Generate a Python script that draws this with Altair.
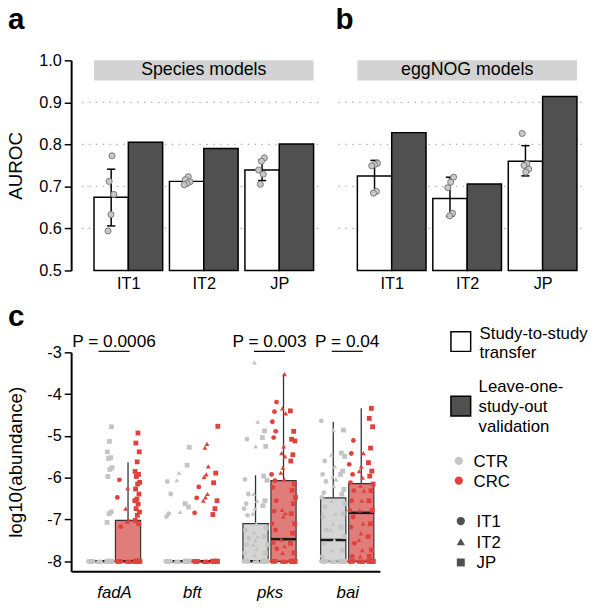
import json
import altair as alt
import pandas as pd

FONT = "Liberation Sans"

# ---------------- panels a / b : AUROC ----------------
cohorts = ["IT1", "IT2", "JP"]
model_types = ["transfer", "loso"]
panels = ["a", "b"]
panel_titles = ["Species models", "eggNOG models"]

species_transfer = [0.674, 0.712, 0.739]
species_loso = [0.805, 0.790, 0.801]
species_err_lo = [0.606, 0.707, 0.714]
species_err_hi = [0.741, 0.717, 0.763]
species_pts_IT1 = [0.773, 0.712, 0.681, 0.633, 0.594]
species_pts_IT2 = [0.723, 0.716, 0.711, 0.707, 0.704]
species_pts_JP = [0.768, 0.760, 0.739, 0.729, 0.705]

eggnog_transfer = [0.725, 0.671, 0.760]
eggnog_loso = [0.828, 0.706, 0.914]
eggnog_err_lo = [0.686, 0.629, 0.725]
eggnog_err_hi = [0.762, 0.722, 0.797]
eggnog_pts_IT1 = [0.755, 0.752, 0.749, 0.688, 0.684]
eggnog_pts_IT2 = [0.722, 0.710, 0.697, 0.636, 0.630]
eggnog_pts_JP = [0.826, 0.754, 0.750, 0.741, 0.734]

auroc_ticks = [0.5, 0.6, 0.7, 0.8, 0.9, 1.0]
auroc_grid = [0.6, 0.7, 0.8, 0.9]

# ---------------- panel c : log10(abundance) ----------------
genes = ["fadA", "bft", "pks", "bai"]
conditions = ["CTR", "CRC"]

fadA_CTR_IT1 = [-8, -8, -8, -8, -8, -8, -8, -8]
fadA_CTR_IT2 = [-8, -8, -8, -8, -8, -8, -8]
fadA_CTR_JP = [-4.78, -5.13, -5.38, -5.52, -5.54, -5.76, -5.80, -5.97, -6.82, -6.86, -7.07,
               -8, -8, -8, -8, -8, -8, -8, -8]
fadA_CRC_IT1 = [-6.05, -6.47, -7.17, -8, -8, -8, -8, -8, -8, -8, -8]
fadA_CRC_IT2 = [-6.25, -6.74, -7.02, -7.05, -8, -8, -8, -8, -8, -8]
fadA_CRC_JP = [-4.93, -5.17, -5.38, -5.62, -5.85, -5.92, -5.97, -6.11, -6.15, -6.27, -6.39,
               -6.51, -6.55, -6.63, -6.74, -6.82, -6.90, -7.02, -7.10,
               -8, -8, -8, -8, -8, -8, -8, -8]

bft_CTR_IT1 = [-6.09, -6.39, -6.86, -6.93, -8, -8, -8, -8, -8, -8, -8, -8]
bft_CTR_IT2 = [-5.88, -6.06, -6.82, -8, -8, -8, -8, -8, -8, -8]
bft_CTR_JP = [-5.27, -5.70, -6.62, -6.70, -8, -8, -8, -8, -8, -8, -8, -8, -8]
bft_CRC_IT1 = [-6.22, -6.48, -6.84, -8, -8, -8, -8, -8, -8, -8, -8]
bft_CRC_IT2 = [-5.19, -5.28, -5.73, -5.92, -5.98, -6.39, -6.47, -6.55, -8, -8, -8, -8, -8, -8, -8]
bft_CRC_JP = [-4.77, -5.89, -6.12, -6.55, -6.74, -6.88, -8, -8, -8, -8, -8, -8, -8, -8]

pks_CTR_IT1 = [-5.08, -6.04, -6.39, -6.62, -6.74, -6.90, -7.25, -7.45, -7.60, -7.80, -8, -8, -8, -8]
pks_CTR_IT2 = [-3.24, -4.66, -5.25, -6.39, -6.55, -6.74, -6.86, -7.10, -7.30, -7.40, -7.50, -7.60,
               -7.70, -7.85, -8, -8, -8, -8]
pks_CTR_JP = [-4.88, -5.04, -5.25, -5.96, -6.06, -6.55, -6.67, -7.20, -7.40, -7.60, -7.80,
              -8, -8, -8, -8, -8, -8]
pks_CRC_IT1 = [-4.19, -4.42, -4.66, -4.89, -5.04, -5.92, -6.07, -6.23, -6.55, -6.80, -7.10, -7.25,
               -7.55, -7.70, -8, -8, -8, -8, -8]
pks_CRC_IT2 = [-3.52, -4.34, -4.46, -5.25, -5.41, -5.49, -5.76, -5.88, -6.04, -6.77, -6.85, -6.93,
               -7.48, -7.64, -7.80, -8, -8, -8, -8, -8]
pks_CRC_JP = [-4.40, -4.89, -5.08, -5.12, -5.45, -5.60, -6.15, -6.30, -6.47, -6.62, -6.86, -7.10,
              -7.33, -7.57, -7.80, -8, -8, -8, -8, -8, -8]

bai_CTR_IT1 = [-4.64, -5.60, -5.92, -6.09, -6.36, -6.47, -6.70, -6.94, -7.25, -7.57, -7.88,
               -8, -8, -8, -8, -8, -8]
bai_CTR_IT2 = [-4.86, -5.45, -5.73, -5.97, -6.04, -6.20, -6.55, -6.86, -7.10, -7.25, -7.49, -7.73,
               -8, -8, -8, -8, -8, -8]
bai_CTR_JP = [-4.86, -5.41, -5.49, -5.84, -5.92, -6.28, -6.39, -6.62, -6.86, -7.18, -7.41, -7.73,
              -8, -8, -8, -8, -8, -8]
bai_CRC_IT1 = [-5.11, -5.42, -5.68, -5.92, -6.12, -6.31, -6.55, -6.78, -6.94, -7.18, -7.57, -7.88,
               -8, -8, -8, -8, -8, -8]
bai_CRC_IT2 = [-5.41, -5.73, -5.84, -6.00, -6.19, -6.31, -6.55, -6.78, -7.10, -7.33, -7.49, -7.73,
               -7.88, -8, -8, -8, -8, -8, -8]
bai_CRC_JP = [-4.34, -4.58, -4.78, -5.29, -5.64, -5.84, -5.96, -6.15, -6.31, -6.55, -6.78, -7.10,
              -7.41, -7.73, -7.88, -8, -8, -8, -8, -8, -8]

# box summaries (Q1, median, Q3, upper whisker) per gene
box_q1_CTR = [-8, -8, -8, -8]
box_med_CTR = [-8, -8, -8, -7.49]
box_q3_CTR = [-8, -8, -7.10, -6.48]
box_whi_CTR = [-8, -8, -5.94, -4.66]
box_q1_CRC = [-8, -8, -8, -8]
box_med_CRC = [-8, -8, -7.47, -6.84]
box_q3_CRC = [-7.02, -8, -6.07, -6.14]
box_whi_CRC = [-5.63, -8, -3.52, -4.34]

abund_ticks = [-3, -4, -5, -6, -7, -8]
p_genes = ["fadA", "pks", "bai"]
p_labels = ["P = 0.0006", "P = 0.003", "P = 0.04"]

legend_model_lines = ["Study-to-study", "transfer", "Leave-one-", "study-out", "validation"]

# ---------------- styling ----------------
WHITE = "white"
DARK = "#505050"
GRAY_PT = "#c4c4c4"
RED_PT = "#e0413d"
GRAY_BOX = "#d5d5d5"
RED_BOX = "#e07d7a"

COH = json.dumps(cohorts)
GEN = json.dumps(genes)

AB_W, A_H = 523, 213
C_W, C_H = 313, 222
B_OFF = 3.49  # panel b offset along the shared x scale
OFF = f"(datum.panel == 'b' ? {B_OFF} : 0)"

# ================= panels a + b (one view, shared y) =================
xs = alt.Scale(domain=[-0.758, 6.079], nice=False, zero=False)
ys = alt.Scale(domain=[0.5, 1.0], nice=False, zero=False)
xaxis = alt.Axis(values=[0, 1, 2, B_OFF, B_OFF + 1, B_OFF + 2],
                 labelExpr=f"{COH}[round(datum.value >= 3 ? datum.value - {B_OFF} : datum.value)]",
                 ticks=False, domain=False, grid=False, labelPadding=5, labelFontSize=16.5, title=None)
yaxis = alt.Axis(values=auroc_ticks, format=".1f", title="AUROC", grid=False,
                 tickSize=7, tickWidth=1.5, domainWidth=2, labelFontSize=16.5,
                 labelPadding=3, titleFontSize=19, titleFontWeight="normal",
                 titleX=-46, titleY=A_H / 2, titleBaseline="bottom",
                 titleAlign="center", titleAngle=270)


def X(f):
    return alt.X(f, type="quantitative", scale=xs, axis=xaxis)


def Y(f):
    return alt.Y(f, type="quantitative", scale=ys, axis=yaxis)


grid_df = pd.DataFrame({"g": auroc_grid})
grid_a = alt.Chart(grid_df).mark_rule(color="#b0b0b0", strokeDash=[1.5, 5.5], strokeWidth=1.3).encode(
    y=Y("g"), x=alt.value(11), x2=alt.value(256))
grid_b = alt.Chart(grid_df).mark_rule(color="#b0b0b0", strokeDash=[1.5, 5.5], strokeWidth=1.3).encode(
    y=Y("g"), x=alt.value(271), x2=alt.value(AB_W))

bars_rows = []
for pn, tr, lo_ in zip(panels, [species_transfer, eggnog_transfer], [species_loso, eggnog_loso]):
    for c, v in zip(cohorts, tr):
        bars_rows.append({"panel": pn, "cohort": c, "type": model_types[0], "value": v})
    for c, v in zip(cohorts, lo_):
        bars_rows.append({"panel": pn, "cohort": c, "type": model_types[1], "value": v})
bars = alt.Chart(pd.DataFrame(bars_rows)).transform_calculate(
    x1=f"indexof({COH}, datum.cohort) + {OFF} + (datum.type == 'transfer' ? -0.455 : 0)"
).transform_calculate(x2="datum.x1 + 0.455").mark_rect(stroke="black", strokeWidth=1.5).encode(
    x=X("x1"), x2="x2:Q", y=Y("value"), y2=alt.datum(0.5),
    fill=alt.Fill("type:N", scale=alt.Scale(domain=model_types, range=[WHITE, DARK]), legend=None),
)

err_rows = []
for pn, los, his in zip(panels, [species_err_lo, eggnog_err_lo], [species_err_hi, eggnog_err_hi]):
    for c, l, h in zip(cohorts, los, his):
        err_rows.append({"panel": pn, "cohort": c, "lo": l, "hi": h})
err_base = alt.Chart(pd.DataFrame(err_rows)).transform_calculate(
    xc=f"indexof({COH}, datum.cohort) + {OFF} - 0.2275"
).transform_calculate(xl="datum.xc - 0.055", xr="datum.xc + 0.055")
err = err_base.mark_rule(color="black", strokeWidth=1.5).encode(x=X("xc"), y=Y("lo"), y2="hi:Q")
cap_lo = err_base.mark_rule(color="black", strokeWidth=1.5).encode(x=X("xl"), x2="xr:Q", y=Y("lo"))
cap_hi = err_base.mark_rule(color="black", strokeWidth=1.5).encode(x=X("xl"), x2="xr:Q", y=Y("hi"))

pts_rows = []
for pn, lists in zip(panels, [[species_pts_IT1, species_pts_IT2, species_pts_JP],
                              [eggnog_pts_IT1, eggnog_pts_IT2, eggnog_pts_JP]]):
    for c, vals in zip(cohorts, lists):
        for v in vals:
            pts_rows.append({"panel": pn, "cohort": c, "value": v})
points = alt.Chart(pd.DataFrame(pts_rows)).transform_window(rn="row_number()").transform_calculate(
    xp=f"indexof({COH}, datum.cohort) + {OFF} - 0.2275 + ((datum.rn * 0.618034) % 1 - 0.5) * 0.1"
).mark_circle(size=38, fill="#c8c8c8", stroke="#7a7a7a", strokeWidth=1, opacity=1).encode(
    x=X("xp"), y=Y("value"))

strip_base = alt.Chart(pd.DataFrame({"panel": panels, "t": panel_titles})).transform_calculate(
    x1=f"-0.455 + {OFF}", x2=f"2.455 + {OFF}", xm=f"1 + {OFF}")
strip = strip_base.mark_rect(color="#d3d3d3").encode(
    x=X("x1"), x2="x2:Q", y=alt.datum(0.952), y2=alt.datum(1.0))
strip_txt = strip_base.mark_text(fontSize=18, baseline="middle", align="center", color="black").encode(
    x=X("xm"), y=alt.datum(0.976), text="t:N")

lab_a = alt.Chart(pd.DataFrame({"t": [panels[0]]})).mark_text(
    align="left", baseline="alphabetic", fontSize=30, fontWeight="bold", color="black"
).encode(text="t:N", x=alt.value(-64), y=alt.value(-32))
lab_b = alt.Chart(pd.DataFrame({"t": [panels[1]]})).mark_text(
    align="left", baseline="alphabetic", fontSize=30, fontWeight="bold", color="black"
).encode(text="t:N", x=alt.value(268), y=alt.value(-32))

panel_ab = alt.layer(grid_a, grid_b, bars, err, cap_lo, cap_hi, points, strip, strip_txt,
                     lab_a, lab_b).properties(width=AB_W, height=A_H)

# ================= panel c + legend =================
abund = {
    ("fadA", "CTR", "IT1"): fadA_CTR_IT1, ("fadA", "CTR", "IT2"): fadA_CTR_IT2, ("fadA", "CTR", "JP"): fadA_CTR_JP,
    ("fadA", "CRC", "IT1"): fadA_CRC_IT1, ("fadA", "CRC", "IT2"): fadA_CRC_IT2, ("fadA", "CRC", "JP"): fadA_CRC_JP,
    ("bft", "CTR", "IT1"): bft_CTR_IT1, ("bft", "CTR", "IT2"): bft_CTR_IT2, ("bft", "CTR", "JP"): bft_CTR_JP,
    ("bft", "CRC", "IT1"): bft_CRC_IT1, ("bft", "CRC", "IT2"): bft_CRC_IT2, ("bft", "CRC", "JP"): bft_CRC_JP,
    ("pks", "CTR", "IT1"): pks_CTR_IT1, ("pks", "CTR", "IT2"): pks_CTR_IT2, ("pks", "CTR", "JP"): pks_CTR_JP,
    ("pks", "CRC", "IT1"): pks_CRC_IT1, ("pks", "CRC", "IT2"): pks_CRC_IT2, ("pks", "CRC", "JP"): pks_CRC_JP,
    ("bai", "CTR", "IT1"): bai_CTR_IT1, ("bai", "CTR", "IT2"): bai_CTR_IT2, ("bai", "CTR", "JP"): bai_CTR_JP,
    ("bai", "CRC", "IT1"): bai_CRC_IT1, ("bai", "CRC", "IT2"): bai_CRC_IT2, ("bai", "CRC", "JP"): bai_CRC_JP,
}
rows = []
for (g, cnd, coh), vals in abund.items():
    for v in vals:
        rows.append({"gene": g, "cond": cnd, "cohort": coh, "value": v})
abund_df = pd.DataFrame(rows)

box_df = pd.DataFrame({
    "gene": genes + genes,
    "cond": [conditions[0]] * len(genes) + [conditions[1]] * len(genes),
    "q1": box_q1_CTR + box_q1_CRC,
    "med": box_med_CTR + box_med_CRC,
    "q3": box_q3_CTR + box_q3_CRC,
    "whi": box_whi_CTR + box_whi_CRC,
})

cxs = alt.Scale(domain=[-0.552, 3.42], nice=False, zero=False)
cys = alt.Scale(domain=[-8.24, -3], nice=False, zero=False)
cxaxis = alt.Axis(values=[0, 1, 2, 3], labelExpr=f"{GEN}[datum.value]", ticks=False, grid=False,
                  domain=True, domainWidth=2, labelPadding=14, labelFontSize=17,
                  labelFontStyle="italic", title=None)
cyaxis = alt.Axis(values=abund_ticks, labelExpr="'' + datum.value", title="log10(abundance)",
                  grid=False, tickSize=7, tickWidth=1.5, domainWidth=2, labelFontSize=16.5,
                  labelPadding=3, titleFontSize=19, titleFontWeight="normal", titleX=-46,
                  titleY=C_H / 2, titleBaseline="bottom", titleAlign="center", titleAngle=270)


def CX(f):
    return alt.X(f, type="quantitative", scale=cxs, axis=cxaxis)


def CY(f):
    return alt.Y(f, type="quantitative", scale=cys, axis=cyaxis)


box_base = alt.Chart(box_df).transform_calculate(
    xc=f"indexof({GEN}, datum.gene) + (datum.cond == 'CTR' ? -0.18 : 0.18)"
).transform_calculate(xl="datum.xc - 0.162", xr="datum.xc + 0.162")
box_rect = box_base.mark_rect(stroke="#333333", strokeWidth=1.2).encode(
    x=CX("xl"), x2="xr:Q", y=CY("q1"), y2="q3:Q",
    fill=alt.Fill("cond:N", scale=alt.Scale(domain=conditions, range=[GRAY_BOX, RED_BOX]), legend=None))
box_whisk = box_base.mark_rule(color="#333333", strokeWidth=1.3).encode(
    x=CX("xc"), y=CY("q3"), y2="whi:Q")
box_med = box_base.mark_rule(color="#1a1a1a", strokeWidth=2.6).encode(
    x=CX("xl"), x2="xr:Q", y=CY("med"))

c_points = alt.Chart(abund_df).transform_window(rn="row_number()").transform_calculate(
    xp=(f"indexof({GEN}, datum.gene) + (datum.cond == 'CTR' ? -0.18 : 0.18)"
        f" + (indexof({COH}, datum.cohort) - 1) * 0.12"
        " + ((datum.rn * 0.618034) % 1 - 0.5) * 0.07")
).mark_point(filled=True, size=24, opacity=1, strokeWidth=0).encode(
    x=CX("xp"), y=CY("value"),
    color=alt.Color("cond:N", scale=alt.Scale(domain=conditions, range=[GRAY_PT, RED_PT]), legend=None),
    shape=alt.Shape("cohort:N", scale=alt.Scale(domain=cohorts, range=["circle", "triangle-up", "square"]),
                    legend=None),
)

p_base = alt.Chart(pd.DataFrame({"gene": p_genes, "label": p_labels})).transform_calculate(
    gx=f"indexof({GEN}, datum.gene)"
).transform_calculate(ul="datum.gx - 0.2", ur="datum.gx + 0.2")
p_text = p_base.mark_text(fontSize=17.5, baseline="alphabetic", align="center", color="black").encode(
    x=CX("gx"), y=alt.datum(-2.88), text="label:N")
p_line = p_base.mark_rule(color="black", strokeWidth=1.2).encode(
    x=CX("ul"), x2="ur:Q", y=alt.datum(-2.975))

c_lab = alt.Chart(pd.DataFrame({"t": ["c"]})).mark_text(
    align="left", baseline="alphabetic", fontSize=30, fontWeight="bold", color="black"
).encode(text="t:N", x=alt.value(-64), y=alt.value(-27))


# --- legend (drawn beside panel c, positions in pixels of panel c) ---
def one(v):
    return pd.DataFrame({"t": [v]})


leg_sq_w = alt.Chart(one(model_types[0])).mark_square(
    size=400, fill=WHITE, stroke="black", strokeWidth=1.5, opacity=1
).encode(x=alt.value(395), y=alt.value(-11))
leg_sq_d = alt.Chart(one(model_types[1])).mark_square(
    size=400, fill=DARK, stroke="black", strokeWidth=1.5, opacity=1
).encode(x=alt.value(395), y=alt.value(54.5))
leg_t1 = alt.Chart(one("\n".join(legend_model_lines[:2]))).mark_text(
    align="left", baseline="alphabetic", fontSize=17, color="black", lineBreak="\n", lineHeight=20
).encode(text="t:N", x=alt.value(414), y=alt.value(-14))
leg_t2 = alt.Chart(one("\n".join(legend_model_lines[2:]))).mark_text(
    align="left", baseline="alphabetic", fontSize=17, color="black", lineBreak="\n", lineHeight=20.5
).encode(text="t:N", x=alt.value(413), y=alt.value(40))
leg_ctr = alt.Chart(one(conditions[0])).mark_circle(size=70, color=GRAY_PT, opacity=1).encode(
    x=alt.value(393), y=alt.value(110))
leg_crc = alt.Chart(one(conditions[1])).mark_circle(size=70, color=RED_PT, opacity=1).encode(
    x=alt.value(393), y=alt.value(130))
leg_cond_t = alt.Chart(one("\n".join(conditions))).mark_text(
    align="left", baseline="alphabetic", fontSize=17, color="black", lineBreak="\n", lineHeight=20
).encode(text="t:N", x=alt.value(408), y=alt.value(116))
leg_it1 = alt.Chart(one(cohorts[0])).mark_point(
    filled=True, size=70, shape="circle", color=DARK, opacity=1, strokeWidth=0
).encode(x=alt.value(395), y=alt.value(171))
leg_it2 = alt.Chart(one(cohorts[1])).mark_point(
    filled=True, size=70, shape="triangle-up", color=DARK, opacity=1, strokeWidth=0
).encode(x=alt.value(395), y=alt.value(192))
leg_jp = alt.Chart(one(cohorts[2])).mark_point(
    filled=True, size=65, shape="square", color=DARK, opacity=1, strokeWidth=0
).encode(x=alt.value(395), y=alt.value(213))
leg_coh_t = alt.Chart(one("\n".join(cohorts))).mark_text(
    align="left", baseline="alphabetic", fontSize=17, color="black", lineBreak="\n", lineHeight=21
).encode(text="t:N", x=alt.value(411), y=alt.value(177))

panel_c = alt.layer(
    box_rect, box_whisk, box_med, c_points, p_text, p_line, c_lab,
    leg_sq_w, leg_sq_d, leg_t1, leg_t2, leg_ctr, leg_crc, leg_cond_t,
    leg_it1, leg_it2, leg_jp, leg_coh_t,
).properties(width=C_W, height=C_H)

chart = alt.vconcat(panel_ab, panel_c, spacing=83, bounds="flush").resolve_scale(
    x="independent", y="independent", color="independent", fill="independent", shape="independent"
).properties(
    autosize=alt.AutoSizeParams(type="none"),
    padding={"left": 64, "top": 49, "right": 528, "bottom": 545},
).configure(font=FONT).configure_view(stroke=None).configure_axis(
    labelColor="black", titleColor="black", domainColor="black", tickColor="black",
    labelFont=FONT, titleFont=FONT,
)

chart.save("out.html", embed_options={"renderer": "svg", "actions": False})
